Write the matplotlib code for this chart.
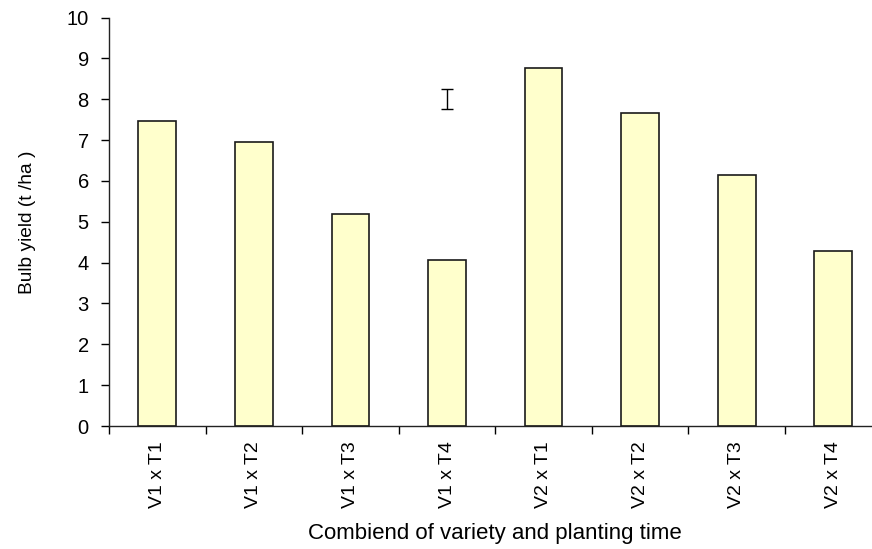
import matplotlib
matplotlib.use("Agg")
import matplotlib.pyplot as plt
import numpy as np

# datos
categorias = ["V1 x T1", "V1 x T2", "V1 x T3", "V1 x T4",
              "V2 x T1", "V2 x T2", "V2 x T3", "V2 x T4"]
rendimiento = [7.47, 6.95, 5.20, 4.06, 8.77, 7.66, 6.14, 4.29]

# barra LSD (posición de categoría, centro, semiamplitud)
lsd_pos = [3]
lsd_centro = [8.0]
lsd_err = [0.24]

plt.rcParams['font.family'] = ['Liberation Sans', 'DejaVu Sans']

fig = plt.figure(figsize=(8.72, 5.49), dpi=100)
ax = fig.add_axes([0.125, 0.224, 0.886, 0.744])

x = np.arange(len(categorias))
ax.bar(x, rendimiento, width=0.39, color="#FFFFCC", edgecolor="#1a1a1a", linewidth=1.2, zorder=2)

ax.errorbar(lsd_pos, lsd_centro, yerr=lsd_err, fmt="none", ecolor="black",
            elinewidth=1.0, capsize=4.3, capthick=1.0, zorder=3)

ax.set_xlim(-0.5, len(categorias) - 0.5)
ax.set_ylim(0, 10)
ax.set_yticks(range(0, 11))
ax.tick_params(axis='y', labelsize=14.5, length=6, width=1, direction='out', pad=8.5)

# marcas entre categorías, etiquetas en el centro
ax.set_xticks(np.arange(len(categorias) + 1) - 0.5)
ax.set_xticklabels([])
ax.tick_params(axis='x', which='major', length=5.5, width=1, direction='out')
ax.set_xticks(x, minor=True)
ax.set_xticklabels(categorias, minor=True, rotation=90, fontsize=14)
ax.tick_params(axis='x', which='minor', length=0, pad=11)

for lado in ["top", "right"]:
    ax.spines[lado].set_visible(False)
for lado in ["left", "bottom"]:
    ax.spines[lado].set_linewidth(1.0)
    ax.spines[lado].set_color("#222222")

ax.set_ylabel("Bulb yield (t /ha )", fontsize=13.8, labelpad=22)
ax.set_xlabel("Combiend of variety and planting time", fontsize=16, labelpad=11)

fig.savefig("out.png", dpi=100)
